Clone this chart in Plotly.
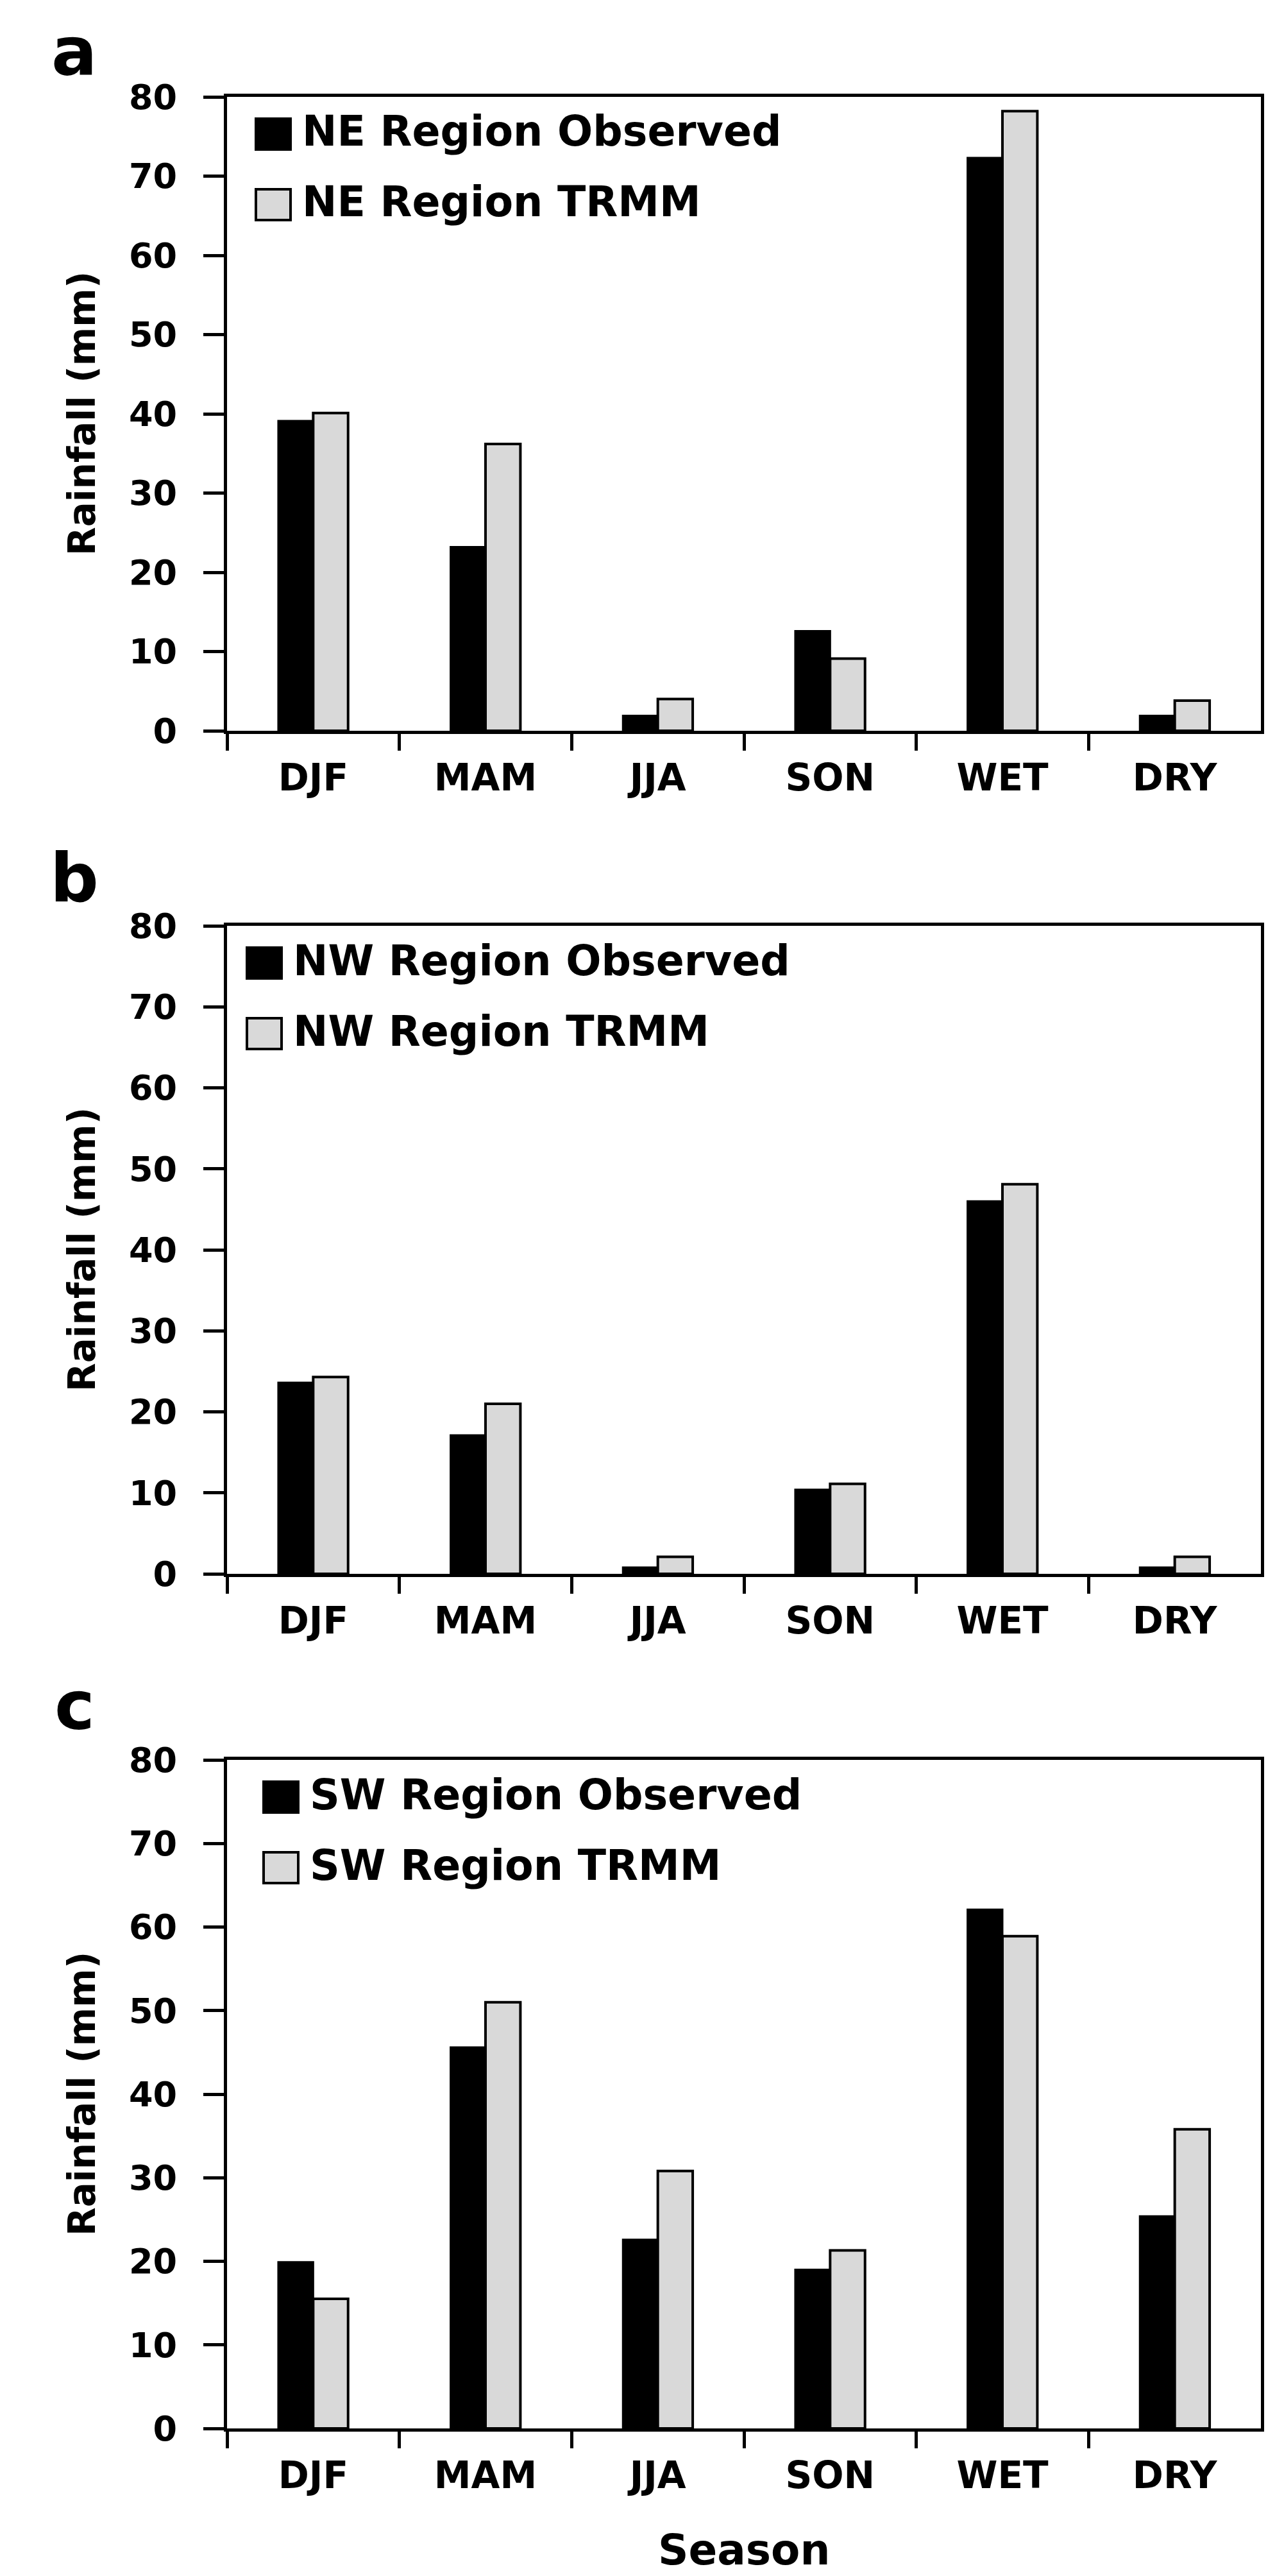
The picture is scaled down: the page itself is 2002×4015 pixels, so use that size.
import plotly.graph_objects as go

# seasonal rainfall, observed vs TRMM, three regions
seasons = ["DJF", "MAM", "JJA", "SON", "WET", "DRY"]
panel_letters = ["a", "b", "c"]
regions = ["NE", "NW", "SW"]

ne_observed = [39.1, 23.2, 1.9, 12.6, 72.3, 1.9]
ne_trmm = [40.1, 36.2, 4.0, 9.1, 78.2, 3.8]
nw_observed = [23.6, 17.1, 0.8, 10.4, 46.0, 0.8]
nw_trmm = [24.3, 21.0, 2.1, 11.1, 48.1, 2.1]
sw_observed = [19.9, 45.6, 22.6, 19.0, 62.1, 25.4]
sw_trmm = [15.5, 51.0, 30.8, 21.3, 58.9, 35.8]

y_ticks = [0, 10, 20, 30, 40, 50, 60, 70, 80]

observed = [ne_observed, nw_observed, sw_observed]
trmm = [ne_trmm, nw_trmm, sw_trmm]

W, H = 2002, 4015
x_left, x_right = 346, 1958
panels = [(143, 1131), (1435, 2445), (2735, 3777)]   # top / bottom in px
letter_y = [72, 1360, 2650]
legend_x = [391, 377, 403]   # left edge of legend squares in px

FONT = "DejaVu Sans"
GRAY = "#d9d9d9"

fig = go.Figure()

for i in range(3):
    xa = "x" if i == 0 else "x%d" % (i + 1)
    ya = "y" if i == 0 else "y%d" % (i + 1)
    fig.add_trace(go.Bar(x=seasons, y=observed[i], xaxis=xa, yaxis=ya,
                         name=regions[i] + " Region Observed", showlegend=False,
                         marker=dict(color="black", line=dict(color="black", width=3))))
    fig.add_trace(go.Bar(x=seasons, y=trmm[i], xaxis=xa, yaxis=ya,
                         name=regions[i] + " Region TRMM", showlegend=False,
                         marker=dict(color=GRAY, line=dict(color="black", width=4))))

    top, bot = panels[i]
    sfx = "" if i == 0 else str(i + 1)
    fig.layout["xaxis" + sfx] = dict(
        domain=[x_left / W, x_right / W], anchor=ya, type="category",
        showline=True, linecolor="black", linewidth=5, mirror=True,
        ticks="outside", tickson="boundaries", ticklen=26, tickwidth=5, tickcolor="black",
        tickfont=dict(family=FONT, size=58, color="black", weight="bold"),
        ticklabelstandoff=18,
        showgrid=False, zeroline=False, automargin=False)
    fig.layout["yaxis" + sfx] = dict(
        domain=[1 - bot / H, 1 - top / H], anchor=xa, range=[0, 80],
        tickvals=y_ticks, showline=True, linecolor="black", linewidth=5, mirror=True,
        ticks="outside", ticklen=32, tickwidth=5, tickcolor="black",
        tickfont=dict(family=FONT, size=54, color="black", weight="bold"),
        ticklabelstandoff=30,
        showgrid=False, zeroline=False, automargin=False)

    # panel letter
    fig.add_annotation(x=108 / W, y=1 - letter_y[i] / H, xref="paper", yref="paper",
                       xanchor="center", yanchor="middle",
                       text=panel_letters[i], showarrow=False,
                       font=dict(family=FONT, size=106, color="black", weight="bold"))
    # y title
    fig.add_annotation(x=120 / W, y=1 - (top + bot) / 2 / H, xref="paper", yref="paper",
                       xanchor="center", yanchor="middle",
                       text="Rainfall (mm)", textangle=-90, showarrow=False,
                       font=dict(family=FONT, size=58, color="black", weight="bold"))

    # legend built by hand so the swatches can be large
    ph = bot - top
    pw = x_right - x_left
    sx0 = (legend_x[i] - x_left) / pw
    sx1 = (legend_x[i] + 54 - x_left) / pw
    tx = (legend_x[i] + 70 - x_left) / pw
    for r, (name, col) in enumerate([(regions[i] + " Region Observed", "black"),
                                     (regions[i] + " Region TRMM", GRAY)]):
        cy = 58 + r * 110
        fig.add_shape(type="rect", xref=xa + " domain", yref=ya + " domain",
                      x0=sx0, x1=sx1, y0=1 - (cy - 24) / ph, y1=1 - (cy + 24) / ph,
                      fillcolor=col, line=dict(color="black", width=4))
        fig.add_annotation(x=tx, y=1 - (cy - 4) / ph, xref=xa + " domain", yref=ya + " domain",
                           text=name, showarrow=False, xanchor="left", yanchor="middle",
                           font=dict(family=FONT, size=65, color="black", weight="bold"))

fig.add_annotation(x=(x_left + x_right) / 2 / W, y=1 - 3966 / H, xref="paper", yref="paper",
                   xanchor="center", yanchor="middle",
                   text="Season", showarrow=False,
                   font=dict(family=FONT, size=66, color="black", weight="bold"))

fig.update_layout(width=W, height=H, barmode="group", bargap=0.595, bargroupgap=0,
                  plot_bgcolor="white", paper_bgcolor="white",
                  margin=dict(l=0, r=0, t=0, b=0), showlegend=False)

fig.write_html("out.html")
